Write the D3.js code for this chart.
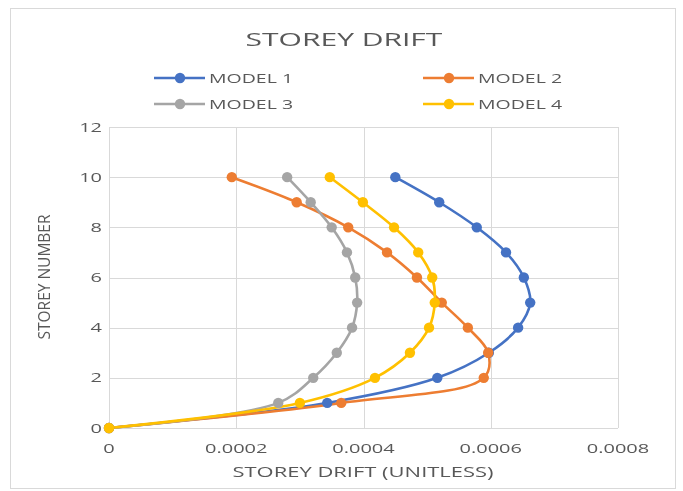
<!DOCTYPE html>
<html>
<head>
<meta charset="utf-8">
<script src="https://cdn.jsdelivr.net/npm/d3@7"></script>
<style>
  html, body { margin: 0; padding: 0; background: #fff; }
  svg { display: block; }
</style>
</head>
<body>
<svg id="chart" width="683" height="491"></svg>
<script>
// Storey levels (0 = base)
const storeys = [0, 1, 2, 3, 4, 5, 6, 7, 8, 9, 10];

// Storey drift per level for each model
const model1 = [0, 0.000343, 0.000516, 0.000597, 0.000643, 0.000662, 0.000652, 0.000624, 0.000578, 0.000519, 0.000450];
const model2 = [0, 0.000365, 0.000589, 0.000596, 0.000564, 0.000523, 0.000484, 0.000437, 0.000376, 0.000295, 0.000193];
const model3 = [0, 0.000266, 0.000321, 0.000358, 0.000382, 0.000390, 0.000387, 0.000374, 0.000350, 0.000317, 0.000280];
const model4 = [0, 0.000300, 0.000418, 0.000473, 0.000503, 0.000512, 0.000508, 0.000486, 0.000448, 0.000399, 0.000347];

const seriesNames = ["MODEL 1", "MODEL 2", "MODEL 3", "MODEL 4"];
const seriesColors = ["#4472C4", "#ED7D31", "#A5A5A5", "#FFC000"];

const xTicks = [0, 0.0002, 0.0004, 0.0006, 0.0008];
const xTickLabels = ["0", "0.0002", "0.0004", "0.0006", "0.0008"];
const yTicks = [0, 2, 4, 6, 8, 10, 12];

const series = [model1, model2, model3, model4].map((vals, i) => ({
  name: seriesNames[i],
  color: seriesColors[i],
  points: vals.map((v, j) => ({ x: v, y: storeys[j] }))
}));

const svg = d3.select("#chart");
const font = "'Open Sans', 'Liberation Sans', sans-serif";
const textColor = "#595959";

// soft rendering of the whole chart
const defs = svg.append("defs");
defs.append("filter").attr("id", "soft")
  .attr("x", "-5%").attr("y", "-5%").attr("width", "110%").attr("height", "110%")
  .append("feGaussianBlur").attr("stdDeviation", 0.55);

const root = svg.append("g").attr("filter", "url(#soft)");

root.append("rect").attr("x", 0).attr("y", 0).attr("width", 683).attr("height", 491).attr("fill", "#fff");

// Chart frame
root.append("rect")
  .attr("x", 10.5).attr("y", 8.5)
  .attr("width", 665).attr("height", 480)
  .attr("fill", "#fff").attr("stroke", "#d9d9d9").attr("stroke-width", 1);

const plot = { left: 109, right: 618, top: 127, bottom: 428 };

const x = d3.scaleLinear().domain([0, 0.0008]).range([plot.left, plot.right]);
const y = d3.scaleLinear().domain([0, 12]).range([plot.bottom, plot.top]);

// text with wide lettering (horizontal stretch sx)
function label(parent, px, py, str, size, anchor, sx, rotate) {
  const g = parent.append("g")
    .attr("transform", `translate(${px},${py}) scale(${sx},1)` + (rotate ? ` rotate(${rotate})` : ""));
  g.append("text")
    .attr("text-anchor", anchor)
    .attr("fill", textColor)
    .style("font-family", font).style("font-size", size + "px")
    .text(str);
  return g;
}

// Gridlines
const grid = root.append("g");
grid.selectAll("line.h").data(yTicks).join("line")
  .attr("x1", plot.left).attr("x2", plot.right)
  .attr("y1", d => Math.round(y(d)) + 0.5).attr("y2", d => Math.round(y(d)) + 0.5)
  .attr("stroke", "#d9d9d9").attr("stroke-width", 1);
grid.selectAll("line.v").data(xTicks).join("line")
  .attr("y1", plot.top).attr("y2", plot.bottom)
  .attr("x1", d => Math.round(x(d)) + 0.5).attr("x2", d => Math.round(x(d)) + 0.5)
  .attr("stroke", "#d9d9d9").attr("stroke-width", 1);

// Tick labels positioned from the scales
const tx = root.append("g");
xTicks.forEach((t, i) => label(tx, x(t), 453, xTickLabels[i], 12.5, "middle", 1.6));
const ty = root.append("g");
yTicks.forEach(t => label(ty, 102, y(t) + 4.5, String(t), 12.5, "end", 1.6));

// Series lines (smoothed) and markers
const line = d3.line()
  .x(d => x(d.x)).y(d => y(d.y))
  .curve(d3.curveCatmullRom.alpha(0.5));

const sg = root.append("g");
series.forEach(s => {
  sg.append("path")
    .attr("d", line(s.points))
    .attr("fill", "none")
    .attr("stroke", s.color)
    .attr("stroke-width", 2.6)
    .attr("stroke-linejoin", "round");
});
series.forEach(s => {
  sg.append("g").selectAll("circle").data(s.points).join("circle")
    .attr("cx", d => x(d.x)).attr("cy", d => y(d.y))
    .attr("r", 5.2)
    .attr("fill", s.color);
});

// Title
label(root, 344, 46, "STOREY DRIFT", 19, "middle", 1.58);

// Legend
const legendPos = [
  { lx: 154, ly: 78 }, { lx: 423, ly: 78 },
  { lx: 154, ly: 104 }, { lx: 423, ly: 104 }
];
series.forEach((s, i) => {
  const p = legendPos[i];
  const g = root.append("g").attr("transform", `translate(${p.lx},${p.ly})`);
  g.append("line").attr("x1", 0).attr("x2", 51).attr("y1", 0).attr("y2", 0)
    .attr("stroke", s.color).attr("stroke-width", 2.6);
  g.append("circle").attr("cx", 26).attr("cy", 0).attr("r", 5.2).attr("fill", s.color);
  label(g, 55, 4.5, s.name, 13, "start", 1.5);
});

// Axis titles
label(root, 363, 477, "STOREY DRIFT (UNITLESS)", 14, "middle", 1.57);
label(root, 50, 277, "STOREY NUMBER", 15.5, "middle", 1.1, -90);
</script>
</body>
</html>
